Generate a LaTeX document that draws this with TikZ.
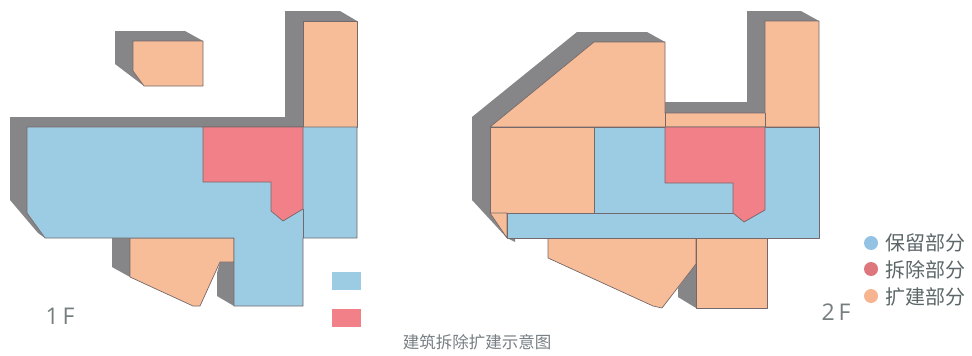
\documentclass[tikz,border=0pt]{standalone}
\usepackage{fontspec}
\setmainfont{Open Sans}
\newfontfamily\cjk{Noto Sans CJK SC}
\definecolor{keep}{HTML}{9CCCE4}
\definecolor{demol}{HTML}{F18088}
\definecolor{extend}{HTML}{F7BD98}
\definecolor{shade}{HTML}{868587}
\definecolor{edge}{HTML}{75686A}
\definecolor{txt}{HTML}{5C6668}
\definecolor{captxt}{HTML}{777F84}
\tikzset{
  keepzone/.style={fill=keep,draw=edge,line width=0.7pt,line join=round},
  demolzone/.style={fill=demol,draw=edge,line width=0.7pt,line join=round},
  extzone/.style={fill=extend,draw=edge,line width=0.7pt,line join=round},
  shadezone/.style={fill=shade,draw=none},
  zoneline/.style={draw=edge,line width=0.7pt},
  floorlabel/.style={text=txt!85,font=\fontsize{23}{23}\selectfont,inner sep=0pt},
  legendlabel/.style={text=txt,font=\cjk\fontsize{20}{20}\selectfont,inner sep=0pt,anchor=west},
  legenddot/.style={circle,minimum size=14pt,inner sep=0pt,draw=none}
}
\begin{document}
\begin{tikzpicture}[x=1pt,y=-1pt]
\useasboundingbox (0,0) rectangle (972,356);
% 1F shadows
\fill[shadezone] (10,117) -- (285,117) -- (285,11) -- (340,11) -- (357,21) -- (303,21) -- (303,127) -- (27,127) -- (27,213) -- (45,238) -- (38,233) -- (10,200) -- cycle;
\fill[shadezone] (115,31) -- (185,31) -- (203,41) -- (133,41) -- (133,71) -- (144,86) -- (115,64) -- cycle;
\fill[shadezone] (112,238) -- (130,238) -- (130,277) -- (112,267) -- cycle;
\fill[shadezone] (217,273) -- (220,262) -- (234,262) -- (234,306) -- (217,296) -- cycle;
% 1F zones
\draw[extzone] (303,21) -- (357,21) -- (357,127) -- (303,127) -- cycle;
\draw[extzone] (133,41) -- (203,41) -- (203,86) -- (144,86) -- (133,71) -- cycle;
\draw[extzone] (130,238) -- (234,238) -- (234,262) -- (220,262) -- (200,306) -- (193,306) -- (130,277) -- cycle;
\draw[keepzone] (27,127) -- (357,127) -- (357,238) -- (303,238) -- (303,306) -- (234,306) -- (234,238) -- (45,238) -- (27,213) -- cycle;
\draw[zoneline] (303,209) -- (303,238);
\draw[demolzone] (203,127) -- (303,127) -- (303,209) -- (283,221) -- (271,211) -- (271,182) -- (203,182) -- cycle;
\fill[keep] (332,272) rectangle (361,290);
\fill[demol] (332,309) rectangle (361,327);
\node[floorlabel] (f1) at (60,316) {1\,F};
% 2F shadows
\fill[shadezone] (472,117) -- (472,200) -- (507,238) -- (515,242) -- (515,238) -- (507,238) -- (490,213) -- (490,127) -- (594,42) -- (665,42) -- (647,32) -- (577,32) -- cycle;
\fill[shadezone] (665,102) -- (747,102) -- (747,11) -- (801,11) -- (819,21) -- (765,21) -- (765,113) -- (665,113) -- cycle;
\fill[shadezone] (678,288) -- (696,264) -- (696,308) -- (678,297) -- cycle;
% 2F zones
\draw[extzone] (490,127) -- (594,42) -- (665,42) -- (665,113) -- (765,113) -- (765,21) -- (819,21) -- (819,127) -- cycle;
\draw[zoneline] (665,113) -- (665,127);
\draw[zoneline] (765,113) -- (765,127);
\draw[extzone] (490,127) -- (594,127) -- (594,213) -- (490,213) -- cycle;
\draw[extzone] (490,213) -- (507,213) -- (507,238) -- cycle;
\draw[extzone] (548,238) -- (696,238) -- (696,264) -- (662,308) -- (653,306) -- (548,258) -- cycle;
\draw[extzone] (696,238) -- (767,238) -- (767,308) -- (696,308) -- cycle;
\draw[keepzone] (594,127) -- (819,127) -- (819,238) -- (507,238) -- (507,213) -- (594,213) -- cycle;
\draw[zoneline] (507,213) -- (733,213);
\draw[demolzone] (665,127) -- (765,127) -- (765,210) -- (744,222) -- (733,213) -- (733,183) -- (665,183) -- cycle;
\node[floorlabel] (f2) at (836,312) {2\,F};
% legend
\node[legenddot,fill=keep!95!blue] (d1) at (871,243) {};
\node[legenddot,fill=demol!92!black] (d2) at (871,269) {};
\node[legenddot,fill=extend!95!red] (d3) at (871,296) {};
\node[legendlabel] (l1) at (885,243) {保留部分};
\node[legendlabel] (l2) at (885,270) {拆除部分};
\node[legendlabel] (l3) at (885,297) {扩建部分};
\node[text=captxt,font=\cjk\fontsize{16.5}{16.5}\selectfont,inner sep=0pt] (cap) at (477,342) {建筑拆除扩建示意图};
\end{tikzpicture}
\end{document}
